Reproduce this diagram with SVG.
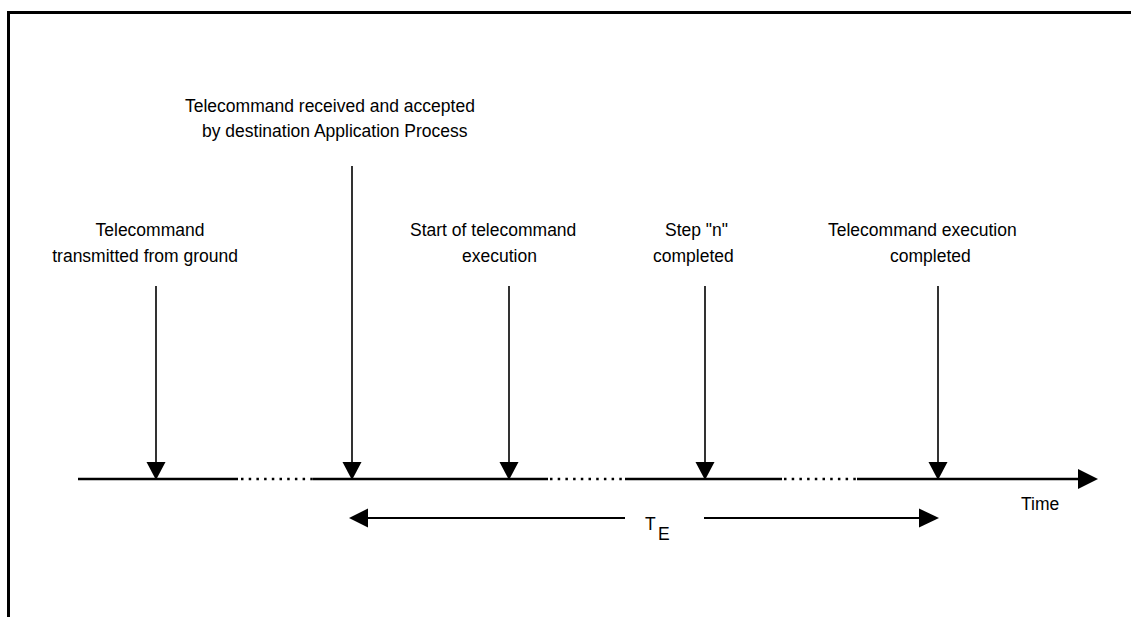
<svg xmlns="http://www.w3.org/2000/svg" width="1131" height="617" viewBox="0 0 1131 617">
<style>
text{font-family:"Liberation Sans",Arial,sans-serif;font-size:17.5px;fill:#000}
.frame{stroke:#000;stroke-width:3;fill:none}
.tl{stroke:#000;stroke-width:2.5;fill:none}
.dot{stroke:#000;stroke-width:2.5;fill:none;stroke-dasharray:2.5 5.2}
.va{stroke:#000;stroke-width:1.6;fill:none}
.te{stroke:#000;stroke-width:2;fill:none}
.head{fill:#000}
</style>
<rect width="1131" height="617" fill="#fff"/>
<g id="frame">
<path class="frame" d="M8.5,617 V12.5 H1131"/>
</g>
<g id="timeline">
<path class="tl" d="M78,479 H238 M313,479 H548 M625,479 H782 M857,479 H1080"/>
<path class="dot" d="M241,479 H313 M550,479 H625 M784,479 H857"/>
<polygon class="head" points="1078,469 1098,479 1078,489"/>
<text x="1021" y="510">Time</text>
</g>
<g id="node-transmitted">
<text x="150" y="236" text-anchor="middle">Telecommand</text>
<text x="238" y="262" text-anchor="end">transmitted from ground</text>
</g>
<g id="node-received">
<text x="185" y="112">Telecommand received and accepted</text>
<text x="202" y="137">by destination Application Process</text>
</g>
<g id="node-start">
<text x="410" y="236">Start of telecommand</text>
<text x="462" y="262">execution</text>
</g>
<g id="node-step">
<text x="665" y="236">Step "n"</text>
<text x="653" y="262">completed</text>
</g>
<g id="node-completed">
<text x="828" y="236">Telecommand execution</text>
<text x="890" y="262">completed</text>
</g>
<g id="connectors">
<path class="va" d="M156,286 V464 M352,166 V464 M509,286 V464 M705,286 V464 M938,286 V464"/>
<polygon class="head" points="146.5,462 165.5,462 156,480"/>
<polygon class="head" points="342.5,462 361.5,462 352,480"/>
<polygon class="head" points="499.5,462 518.5,462 509,480"/>
<polygon class="head" points="695.5,462 714.5,462 705,480"/>
<polygon class="head" points="928.5,462 947.5,462 938,480"/>
</g>
<g id="te-span">
<path class="te" d="M366,518 H625 M704,518 H921"/>
<polygon class="head" points="349,518 368,508.5 368,527.5"/>
<polygon class="head" points="939,518 919,508.5 919,527.5"/>
<text x="645" y="530">T</text>
<text x="658" y="540">E</text>
</g>
</svg>
